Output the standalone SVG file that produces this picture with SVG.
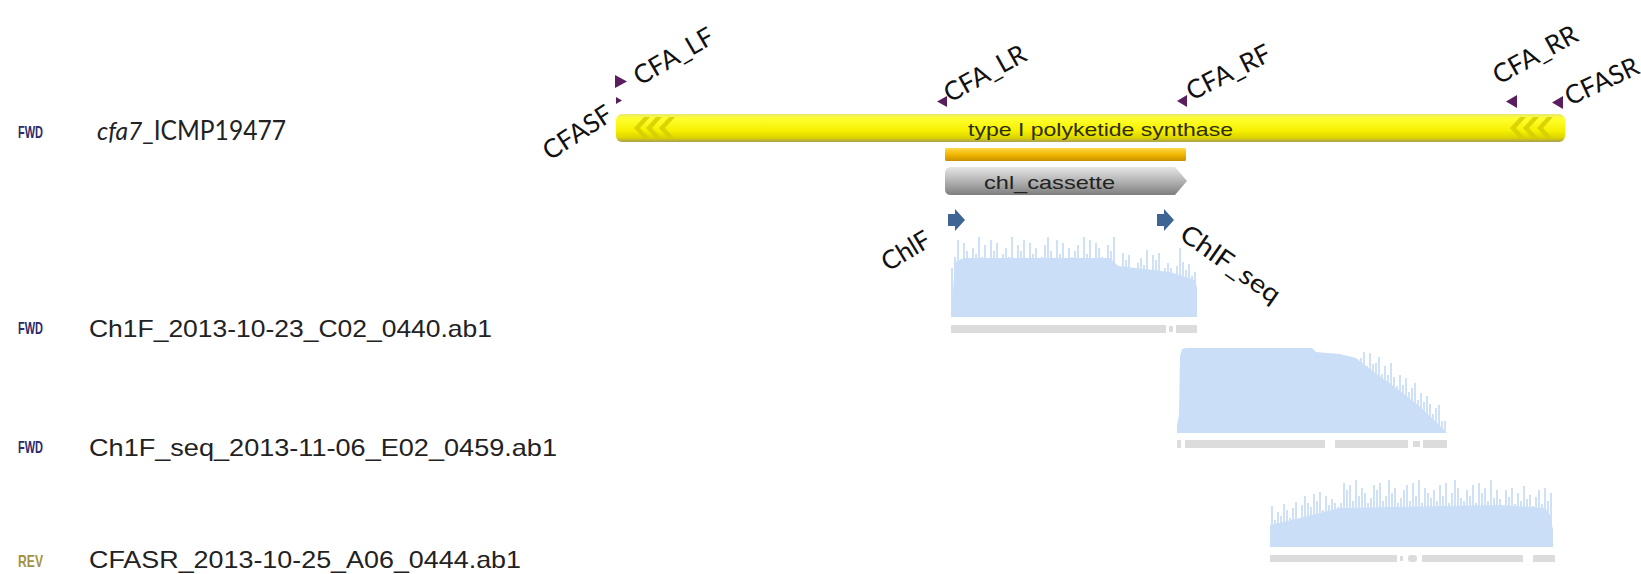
<svg xmlns="http://www.w3.org/2000/svg" width="1641" height="574" viewBox="0 0 1641 574">
<style>
.tag{font-family:"Liberation Sans",Arial,sans-serif;font-weight:bold;font-size:17px}
.fwd{fill:#2b2b6b}
.rev{fill:#a39244}
.fname{font-family:"Liberation Sans",Arial,sans-serif;font-size:24px;fill:#222}
.seqname{font-family:Lato,"Open Sans",sans-serif;font-size:26px;fill:#222}
.primer{font-family:Lato,"Open Sans",sans-serif;font-size:26px;fill:#111}
.tri{fill:#5a1d5e}
.blue{fill:#3d6494}
.chrom{fill:#cadef7}
.spk{stroke:#cadef7;stroke-width:1.8;fill:none}
.gbar{fill:#dcdcdc}
.chev{fill:#d6cc00;opacity:0.85}
.feat{font-family:"Liberation Sans",Arial,sans-serif;font-size:19px}
</style>
<defs>
<linearGradient id="yel" x1="0" y1="0" x2="0" y2="1">
<stop offset="0" stop-color="#e8e870"/>
<stop offset="0.15" stop-color="#ffff30"/>
<stop offset="0.6" stop-color="#f6f000"/>
<stop offset="0.85" stop-color="#dcd400"/>
<stop offset="1" stop-color="#a8a050"/>
</linearGradient>
<linearGradient id="org" x1="0" y1="0" x2="0" y2="1">
<stop offset="0" stop-color="#ffd84a"/>
<stop offset="0.5" stop-color="#f2b800"/>
<stop offset="1" stop-color="#c89000"/>
</linearGradient>
<linearGradient id="gry" x1="0" y1="0" x2="0" y2="1">
<stop offset="0" stop-color="#e6e6e6"/>
<stop offset="0.5" stop-color="#b4b4b4"/>
<stop offset="1" stop-color="#7e7e7e"/>
</linearGradient>
</defs>
<rect width="1641" height="574" fill="#ffffff"/>

<g id="row-cfa7">
<text class="tag fwd" x="18" y="138" textLength="25" lengthAdjust="spacingAndGlyphs">FWD</text>
<text class="seqname" x="97" y="140" textLength="189" lengthAdjust="spacingAndGlyphs"><tspan font-style="italic">cfa7</tspan>_ICMP19477</text>
</g>

<g id="feature-pks">
<rect x="616" y="114" width="949" height="28" rx="6" fill="url(#yel)"/>
<path class="chev" d="M644,117 L634,128 L644,139 L650,139 L640,128 L650,117 Z" opacity="0.5"/>
<path class="chev" d="M656,117 L646,128 L656,139 L662,139 L652,128 L662,117 Z"/>
<path class="chev" d="M669,117 L659,128 L669,139 L675,139 L665,128 L675,117 Z"/>
<path class="chev" d="M1520,117 L1510,128 L1520,139 L1526,139 L1516,128 L1526,117 Z"/>
<path class="chev" d="M1533,117 L1523,128 L1533,139 L1539,139 L1529,128 L1539,117 Z"/>
<path class="chev" d="M1547,117 L1537,128 L1547,139 L1553,139 L1543,128 L1553,117 Z"/>
<text class="feat" x="968" y="136" textLength="265" lengthAdjust="spacingAndGlyphs" fill="#2e2e00">type I polyketide synthase</text>
</g>

<g id="feature-orange">
<rect x="945" y="148" width="241" height="13" rx="1.5" fill="url(#org)"/>
</g>

<g id="feature-chl-cassette">
<path d="M951,167 H1175 L1187,181 L1175,195 H951 Q945,195 945,189 V173 Q945,167 951,167 Z" fill="url(#gry)"/>
<text class="feat" x="984" y="189" textLength="131" lengthAdjust="spacingAndGlyphs" fill="#222">chl_cassette</text>
</g>

<g id="primer-CFASF">
<path class="tri" d="M616,97 L622,100.5 L616,104 Z"/>
<text class="primer" transform="translate(550,161) rotate(-33)">CFASF</text>
</g>
<g id="primer-CFA_LF">
<path class="tri" d="M615,75 L627,81.5 L615,88 Z"/>
<text class="primer" transform="translate(640,86) rotate(-30)">CFA_LF</text>
</g>
<g id="primer-CFA_LR">
<path class="tri" d="M947,96 L937,101.5 L947,107 Z"/>
<text class="primer" transform="translate(950,103) rotate(-29)">CFA_LR</text>
</g>
<g id="primer-CFA_RF">
<path class="tri" d="M1187,95 L1177,101 L1187,107 Z"/>
<text class="primer" transform="translate(1192,101) rotate(-27)">CFA_RF</text>
</g>
<g id="primer-CFA_RR">
<path class="tri" d="M1517,95 L1506,101.5 L1517,108 Z"/>
<text class="primer" transform="translate(1499,85) rotate(-29)">CFA_RR</text>
</g>
<g id="primer-CFASR">
<path class="tri" d="M1563,96 L1552,102.5 L1563,109 Z"/>
<text class="primer" transform="translate(1570,106) rotate(-25)">CFASR</text>
</g>
<g id="primer-ChlF">
<path class="blue" d="M948,214 L955,214 L955,209 L965,220 L955,231 L955,226 L948,226 Z"/>
<text class="primer" transform="translate(888,272) rotate(-31)">ChlF</text>
</g>
<g id="primer-ChlF_seq">
<path class="blue" d="M1157,214 L1164,214 L1164,209 L1174,220 L1164,231 L1164,226 L1157,226 Z"/>
<text class="primer" transform="translate(1178,238) rotate(35)" textLength="116" lengthAdjust="spacingAndGlyphs">ChlF_seq</text>
</g>

<g id="read-ChlF">
<path class="chrom" d="M951,317 L951,306 L953,290 L955,262 L965,258 L1110,258 L1118,266 L1170,272 L1195,280 L1197,288 L1197,317 Z"/>
<path class="spk" d="M952 317V268M955 317V257M958 317V240M961 317V259M964 317V243M967 317V251M970 317V262M973 317V248M976 317V254M979 317V237M982 317V257M985 317V245M988 317V259M991 317V240M994 317V251M997 317V243M1000 317V262M1003 317V254M1006 317V248M1009 317V257M1012 317V237M1015 317V259M1018 317V245M1021 317V251M1024 317V240M1027 317V262M1030 317V243M1033 317V254M1036 317V248M1039 317V259M1042 317V257M1045 317V245M1048 317V237M1051 317V251M1054 317V262M1057 317V240M1060 317V254M1063 317V243M1066 317V259M1069 317V248M1072 317V257M1075 317V251M1078 317V245M1081 317V262M1084 317V237M1087 317V254M1090 317V240M1093 317V259M1096 317V243M1099 317V248M1102 317V257M1105 317V262M1108 317V245M1111 317V251M1114 317V237M1117 317V265M1120 317V270M1123 317V253M1126 317V260M1129 317V255M1132 317V268M1135 317V273M1138 317V263M1141 317V258M1144 317V265M1147 317V250M1150 317V270M1153 317V255M1156 317V260M1159 317V253M1162 317V273M1165 317V268M1168 317V263M1171 317V268M1174 317V274M1177 317V266M1180 317V248M1183 317V262M1186 317V270M1189 317V264M1192 317V276M1195 317V272"/>
<rect class="gbar" x="951" y="325" width="215" height="8"/>
<rect class="gbar" x="1169" y="326" width="4" height="6"/>
<rect class="gbar" x="1176" y="325" width="21" height="8"/>
</g>
<g id="row-read1">
<text class="tag fwd" x="18" y="334" textLength="25" lengthAdjust="spacingAndGlyphs">FWD</text>
<text class="fname" x="89" y="337" textLength="403" lengthAdjust="spacingAndGlyphs">Ch1F_2013-10-23_C02_0440.ab1</text>
</g>

<g id="read-ChlF_seq">
<path class="chrom" d="M1177,433 L1177,425 L1179,415 L1180,356 L1182,349 L1186,348 L1312,348 L1316,352 L1340,354 L1356,358 L1366,366 L1378,375 L1392,385 L1405,395 L1418,405 L1430,416 L1440,426 L1447,433 Z"/>
<path class="spk" d="M1361 433V358M1364 433V352M1367 433V366M1370 433V353M1373 433V364M1376 433V363M1379 433V357M1382 433V374M1385 433V366M1388 433V375M1391 433V363M1394 433V377M1397 433V386M1400 433V375M1403 433V385M1406 433V378M1409 433V392M1412 433V388M1415 433V383M1418 433V400M1421 433V393M1424 433V402M1427 433V396M1430 433V404M1433 433V414M1436 433V408M1439 433V405M1442 433V421M1445 433V421"/>
<rect class="gbar" x="1177" y="440" width="4" height="8"/>
<rect class="gbar" x="1185" y="440" width="140" height="8"/>
<rect class="gbar" x="1335" y="440" width="73" height="8"/>
<rect class="gbar" x="1413" y="441" width="7" height="6"/>
<rect class="gbar" x="1423" y="440" width="24" height="8"/>
</g>
<g id="row-read2">
<text class="tag fwd" x="18" y="453" textLength="25" lengthAdjust="spacingAndGlyphs">FWD</text>
<text class="fname" x="89" y="456" textLength="468" lengthAdjust="spacingAndGlyphs">Ch1F_seq_2013-11-06_E02_0459.ab1</text>
</g>

<g id="read-CFASR">
<path class="chrom" d="M1270,547 L1270,525 L1300,518 L1340,508 L1500,505 L1545,508 L1550,515 L1553,530 L1553,547 Z"/>
<path class="spk" d="M1272 547V506M1275 547V520M1278 547V512M1281 547V516M1284 547V504M1287 547V510M1290 547V518M1293 547V508M1296 547V502M1299 547V520M1302 547V505M1305 547V496M1308 547V503M1311 547V507M1314 547V494M1317 547V501M1320 547V492M1323 547V510M1326 547V496M1329 547V505M1332 547V499M1335 547V503M1338 547V507M1341 547V503M1344 547V483M1347 547V490M1350 547V485M1353 547V501M1356 547V480M1359 547V496M1362 547V488M1365 547V493M1368 547V503M1371 547V498M1374 547V485M1377 547V490M1380 547V483M1383 547V501M1386 547V496M1389 547V480M1392 547V493M1395 547V488M1398 547V503M1401 547V498M1404 547V490M1407 547V485M1410 547V501M1413 547V483M1416 547V496M1419 547V480M1422 547V503M1425 547V488M1428 547V493M1431 547V498M1434 547V490M1437 547V501M1440 547V485M1443 547V496M1446 547V483M1449 547V503M1452 547V493M1455 547V480M1458 547V488M1461 547V498M1464 547V501M1467 547V490M1470 547V496M1473 547V485M1476 547V503M1479 547V483M1482 547V493M1485 547V488M1488 547V501M1491 547V480M1494 547V498M1497 547V490M1500 547V499M1503 547V506M1506 547V490M1509 547V497M1512 547V488M1515 547V504M1518 547V493M1521 547V501M1524 547V486M1527 547V499M1530 547V495M1533 547V506M1536 547V497M1539 547V490M1542 547V504M1545 547V488M1548 547V501M1551 547V493"/>
<rect class="gbar" x="1270" y="555" width="127" height="7"/>
<rect class="gbar" x="1400" y="556" width="3" height="5"/>
<rect class="gbar" x="1408" y="555" width="9" height="7" rx="3"/>
<rect class="gbar" x="1422" y="555" width="101" height="7"/>
<rect class="gbar" x="1533" y="555" width="22" height="7"/>
</g>
<g id="row-read3">
<text class="tag rev" x="18" y="567" textLength="25" lengthAdjust="spacingAndGlyphs">REV</text>
<text class="fname" x="89" y="568" textLength="432" lengthAdjust="spacingAndGlyphs">CFASR_2013-10-25_A06_0444.ab1</text>
</g>
</svg>
